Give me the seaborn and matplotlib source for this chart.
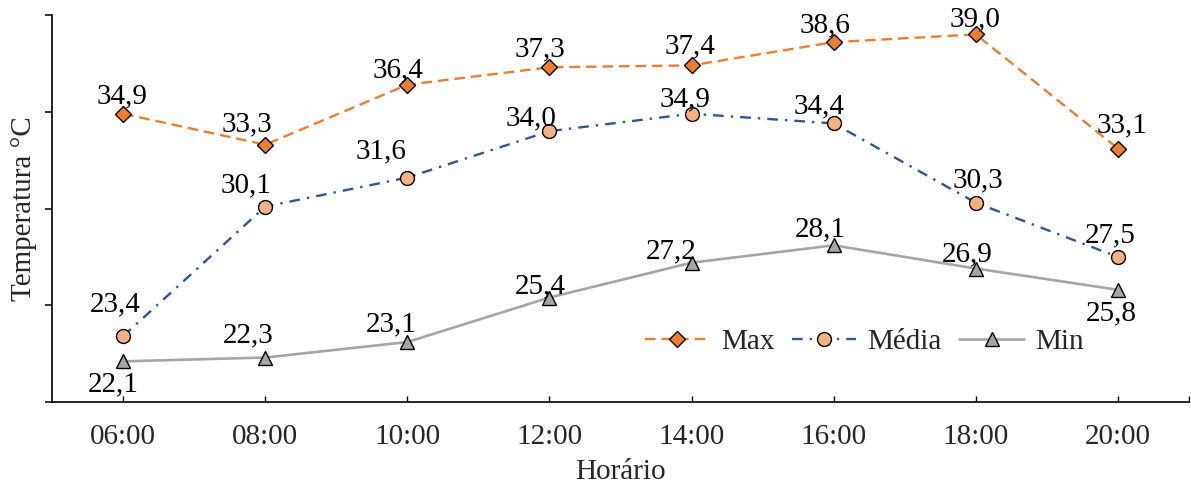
import matplotlib
matplotlib.use("Agg")
import matplotlib.pyplot as plt
import seaborn as sns
import pandas as pd
import numpy as np

horarios = ["06:00", "08:00", "10:00", "12:00", "14:00", "16:00", "18:00", "20:00"]
tmax = [34.9, 33.3, 36.4, 37.3, 37.4, 38.6, 39.0, 33.1]
tmed = [23.4, 30.1, 31.6, 34.0, 34.9, 34.4, 30.3, 27.5]
tmin = [22.1, 22.3, 23.1, 25.4, 27.2, 28.1, 26.9, 25.8]

# label offsets (pixels, baseline relative to marker centre)
off_max = [(-1, 10), (-18, 13), (-9, 7), (-10, 11), (-2, 12), (-9, 10), (-1, 8), (4, 16)]
off_med = [(-8, 25), (-19, 14), (-26, 19), (-18, 6), (-7, 7), (-15, 10), (2, 15), (-8, 15)]
off_min = [(-10, -30), (-17, 15), (-16, 11), (-9, 4), (-20, 4), (-13, 9), (-9, 7), (-7, -31)]

sns.set_theme(style="ticks")
plt.rcParams['font.family'] = ['Liberation Serif', 'DejaVu Serif']

fig, ax = plt.subplots(figsize=(11.91, 4.86), dpi=100)
fig.subplots_adjust(left=0.0437, right=0.9983, top=0.969, bottom=0.1728)

x = np.arange(len(horarios))
df = pd.DataFrame({"h": x, "Max": tmax, "Média": tmed, "Min": tmin})

sns.lineplot(data=df, x="h", y="Max", ax=ax, color="#ED7D31", linestyle=(0, (4.5, 2.5)),
             lw=1.7, marker="D", markersize=8, markerfacecolor="#ED7D31",
             markeredgecolor="black", markeredgewidth=1.0, label="Max")
sns.lineplot(data=df, x="h", y="Média", ax=ax, color="#2F5597", linestyle=(0, (4.5, 3, 1, 3)),
             lw=1.7, marker="o", markersize=10, markerfacecolor="#F4B183",
             markeredgecolor="black", markeredgewidth=1.0, label="Média")
sns.lineplot(data=df, x="h", y="Min", ax=ax, color="#A5A5A5", linestyle="-",
             lw=1.9, marker="^", markersize=10, markerfacecolor="#A5A5A5",
             markeredgecolor="black", markeredgewidth=1.0, label="Min")

fs = 21
for vals, offs in [(tmax, off_max), (tmed, off_med), (tmin, off_min)]:
    for xi, v, o in zip(x, vals, offs):
        ax.annotate(f"{v:.1f}".replace(".", ","), (xi, v), xytext=o,
                    textcoords="offset pixels", ha="center", va="baseline",
                    fontsize=fs, color="black")

ax.set_xlim(-0.5, 7.5)
ax.set_ylim(20, 40)
ax.set_yticks([20, 25, 30, 35, 40])
ax.set_yticklabels([])
ax.tick_params(axis="y", direction="out", length=5, width=1.1, color="black")
ax.set_xticks(list(x) + [7.5])
ax.set_xticklabels(horarios + [""], fontsize=fs)
ax.tick_params(axis="x", direction="in", length=4.5, width=1.0, color="black", pad=16)
ax.set_xlabel("Horário", fontsize=fs, labelpad=6)
ax.set_ylabel("Temperatura °C", fontsize=fs, labelpad=2)
for s in ["top", "right"]:
    ax.spines[s].set_visible(False)
for s in ["left", "bottom"]:
    ax.spines[s].set_color("black")
    ax.spines[s].set_linewidth(1.2)

ax.legend(loc="center left", bbox_to_anchor=(0.5215, 0.155), ncol=3, frameon=False,
          fontsize=fs, handlelength=2.2, columnspacing=0.6, handletextpad=0.4,
          borderpad=0, borderaxespad=0)

fig.savefig("out.png", dpi=100)
